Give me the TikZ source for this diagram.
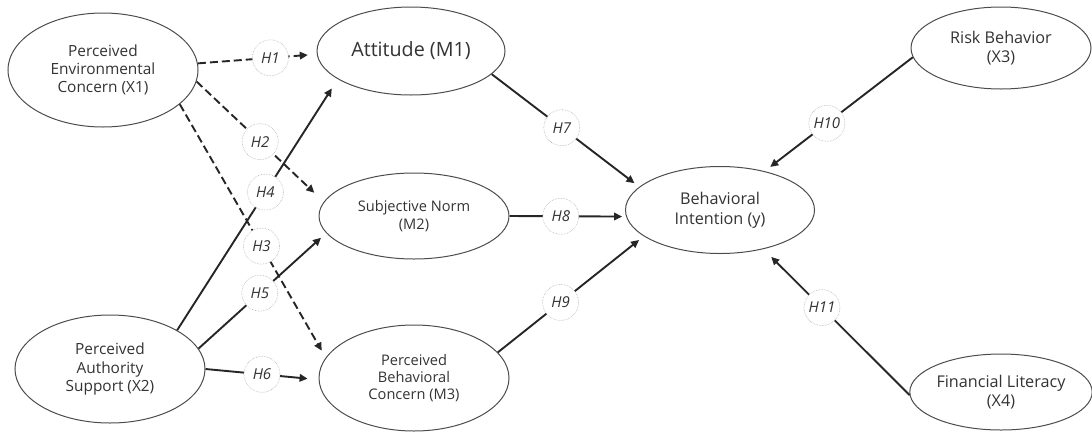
\documentclass[tikz,border=0pt]{standalone}
\usepackage{fontspec}
\setmainfont{Open Sans}
\usetikzlibrary{shapes.geometric,arrows.meta}

\tikzset{
  latent/.style={draw=black!70, line width=1pt, ellipse, inner sep=0pt,
    align=center, text=black!80},
  bigtext/.style={font=\fontsize{15.4}{18.3}\selectfont},
  midtext/.style={font=\fontsize{14.6}{17.3}\selectfont},
  ytext/.style={font=\fontsize{16.2}{19.6}\selectfont},
  hyp/.style={circle, draw=black!30, line width=0.6pt, densely dotted, fill=white,
    minimum size=36pt, inner sep=0pt, shorten >=0pt, text=black!80,
    font=\fontsize{15}{15}\selectfont\itshape},
  link/.style={line width=1.9pt, draw=black!85, -{Triangle[length=8pt,width=7.5pt]}},
  dlink/.style={link, dash pattern=on 8pt off 4pt},
}

\begin{document}
\begin{tikzpicture}[x=1pt,y=-1pt]

\useasboundingbox (0,0) rectangle (1092,432);

%% exogenous
\node[latent, bigtext, minimum width=190pt, minimum height=114pt] (x1) at (103,70) {Perceived\\Environmental\\Concern (X1)};
\node[latent, bigtext, minimum width=190pt, minimum height=108pt] (x2) at (110,369) {Perceived\\Authority\\Support (X2)};
\node[latent, ytext, minimum width=180pt, minimum height=82pt] (x3) at (1001,48) {Risk Behavior\\(X3)};
\node[latent, ytext, minimum width=180pt, minimum height=76pt] (x4) at (1001,392) {Financial Literacy\\(X4)};

%% mediators
\node[latent, font=\fontsize{19.7}{23}\selectfont, minimum width=188pt, minimum height=88pt] (m1) at (411,51) {Attitude (M1)};
\node[latent, midtext, minimum width=190pt, minimum height=86pt] (m2) at (414,216) {Subjective Norm\\(M2)};
\node[latent, midtext, minimum width=190pt, minimum height=106pt] (m3) at (414,378) {Perceived\\Behavioral\\Concern (M3)};

%% outcome
\node[latent, ytext, minimum width=189pt, minimum height=87pt] (bi) at (720,210) {Behavioral\\Intention (y)};

%% H1 - H6
\draw[dlink, shorten >=9pt] (x1.4) -- node[hyp, pos=0.61] (h1) {H1} (m1.182);
\draw[dlink, shorten >=13pt] (x1.-7) -- node[hyp, pos=0.5] (h2) {H2} (m2.171);
\draw[dlink, shorten >=8pt] (x1.-24) -- node[hyp, pos=0.56] (h3) {H3} (m3.167);
\draw[link, shorten >=11pt] (x2.30) -- node[hyp, pos=0.55] (h4) {H4} (m1.-159);
\draw[link, shorten >=7pt] (x2.13) -- node[hyp, pos=0.48] (h5) {H5} (m2.-169);
\draw[link, shorten >=11pt] (x2.0) -- node[hyp, pos=0.5] (h6) {H6} (m3.181);

%% H7 - H11
\draw[link, shorten >=6pt] (m1.-16) -- node[hyp, pos=0.475] (h7) {H7} (bi.164);
\draw[link, shorten >=4pt] (m2.0) -- node[hyp, pos=0.44] (h8) {H8} (bi.184);
\draw[link, shorten >=6pt] (m3.17) -- node[hyp, pos=0.43] (h9) {H9} (bi.-161);
\draw[link, shorten >=7pt] (x3.186) -- node[hyp, pos=0.58] (h10) {H10} (bi.41);
\draw[link, shorten >=11pt] (x4.182) -- node[hyp, pos=0.6] (h11) {H11} (bi.-42);

\end{tikzpicture}
\end{document}
